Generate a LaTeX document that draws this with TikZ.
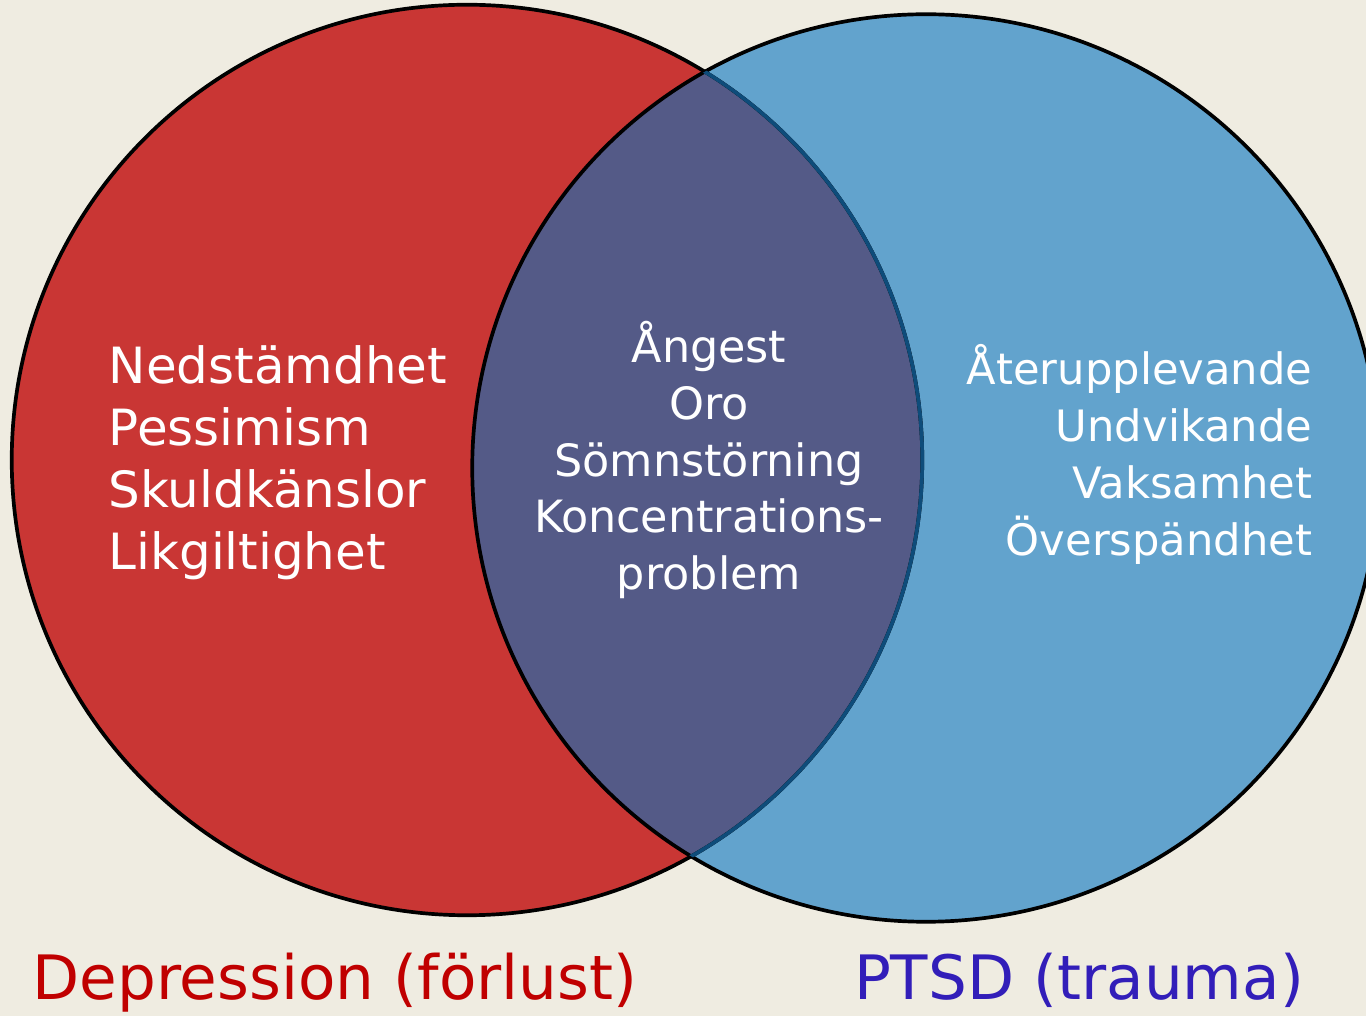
\documentclass[tikz,border=0pt]{standalone}
\usepackage{fontspec}
\setmainfont{DejaVu Sans}
\usetikzlibrary{positioning}

\definecolor{paper}{RGB}{239,236,225}
\definecolor{depred}{RGB}{201,54,52}
\definecolor{ptsdblue}{RGB}{98,163,205}
\definecolor{overlap}{RGB}{84,90,135}
\definecolor{rimblue}{RGB}{14,76,122}
\definecolor{deptext}{RGB}{192,0,0}
\definecolor{ptsdtext}{RGB}{50,30,185}

\begin{document}
\begin{tikzpicture}[x=0.01cm,y=-0.01cm,
		rim/.style={line width=1.05pt},
		symptoms/.style={text=white,inner sep=0pt},
		caption/.style={inner sep=0pt,font=\fontsize{17.4}{20}\selectfont}]
		\def\rDep{4.55cm};
		\def\rPtsd{4.535cm};

		\fill[paper] (0,0) rectangle (1366,1016);
		\useasboundingbox (0,0) rectangle (1366,1016);

		\coordinate (dep) at (467,460);
		\coordinate (ptsd) at (926,468);

		% the two sets
		\fill[depred] (dep) circle (\rDep);
		\fill[ptsdblue] (ptsd) circle (\rPtsd);
		\begin{scope}
			\clip (dep) circle (\rDep);
			\fill[overlap] (ptsd) circle (\rPtsd);
		\end{scope}
		\draw[rim] (dep) circle (\rDep);
		\draw[rim] (ptsd) circle (\rPtsd);
		\begin{scope}
			\clip (ptsd) circle (\rPtsd);
			\draw[rim, rimblue] (dep) circle (\rDep);
		\end{scope}

		% symptoms
		\node[symptoms, anchor=west, align=left, font=\fontsize{14.2}{17.6}\selectfont]
			(depList) at (108,463) {Nedstämdhet\\Pessimism\\Skuldkänslor\\Likgiltighet};
		\node[symptoms, align=center, font=\fontsize{12.65}{16.2}\selectfont]
			(sharedList) at (709,460) {Ångest\\Oro\\Sömnstörning\\Koncentrations-\\problem};
		\node[symptoms, anchor=east, align=right, font=\fontsize{12.3}{16.2}\selectfont]
			(ptsdList) at (1313,454) {Återupplevande\\Undvikande\\Vaksamhet\\Överspändhet};

		% set names
		\node[caption, anchor=base, text=deptext] (depLabel) at (335,1000) {Depression (förlust)};
		\node[caption, anchor=base, text=ptsdtext] (ptsdLabel) at (1079,1000) {PTSD (trauma)};
	\end{tikzpicture}
\end{document}
